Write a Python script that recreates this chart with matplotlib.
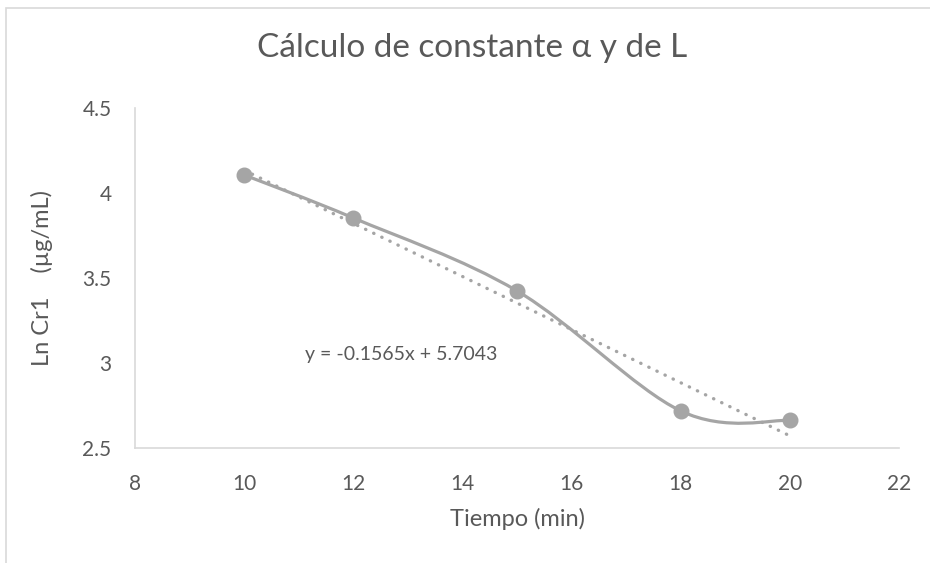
import numpy as np
import matplotlib.pyplot as plt
from matplotlib.patches import Rectangle
from matplotlib.path import Path
from matplotlib.patches import PathPatch

plt.rcParams['font.family'] = ['Lato', 'DejaVu Sans']

tiempo = [10, 12, 15, 18, 20]
ln_cr1 = [4.106, 3.853, 3.424, 2.718, 2.662]
ecuacion = "y = -0.1565x + 5.7043"

gris = '#A5A5A5'
texto = '#595959'
eje = '#D9D9D9'

fig = plt.figure(figsize=(9.3, 5.63), dpi=100)
ax = fig.add_axes([0.1452, 0.2043, 0.8215, 0.6039])

# marco del grafico (recortado en derecha y abajo)
fig.patches.append(Rectangle((6 / 930, -0.1), 1.2, 1 - 8 / 563 + 0.1, transform=fig.transFigure,
                             fill=False, edgecolor=eje, linewidth=1.2))

# linea suavizada estilo Excel (bezier)
x = np.array(tiempo, dtype=float)
y = np.array(ln_cr1, dtype=float)
verts = [(x[0], y[0])]
codes = [Path.MOVETO]
n = len(x)
for i in range(n - 1):
    p0 = np.array([x[max(i - 1, 0)], y[max(i - 1, 0)]])
    p1 = np.array([x[i], y[i]])
    p2 = np.array([x[i + 1], y[i + 1]])
    p3 = np.array([x[min(i + 2, n - 1)], y[min(i + 2, n - 1)]])
    c1 = p1 + (p2 - p0) / 6.0
    c2 = p2 - (p3 - p1) / 6.0
    verts += [tuple(c1), tuple(c2), tuple(p2)]
    codes += [Path.CURVE4] * 3
ax.add_patch(PathPatch(Path(verts, codes), facecolor='none', edgecolor=gris, linewidth=2.3,
                       capstyle='round', zorder=3))

ax.plot(tiempo, ln_cr1, 'o', color=gris, markersize=10.5, zorder=4)

# linea de tendencia
m, b = np.polyfit(x, y, 1)
xt = np.array([x[0], x[-1]])
ax.plot(xt, m * xt + b, linestyle=(0, (0.1, 2.6)), color=gris, linewidth=2.4,
        dash_capstyle='round', zorder=2)

ax.text(11.12, 3.05, ecuacion, fontsize=14, color=texto, va='center', ha='left')

ax.set_xlim(8, 22)
ax.set_ylim(2.5, 4.5)
ax.set_xticks(np.arange(8, 23, 2))
ax.set_yticks([2.5, 3, 3.5, 4, 4.5])
ax.set_yticklabels(['2.5', '3', '3.5', '4', '4.5'])
for s in ['top', 'right']:
    ax.spines[s].set_visible(False)
for s in ['left', 'bottom']:
    ax.spines[s].set_color(eje)
    ax.spines[s].set_linewidth(1.2)
ax.tick_params(length=0, labelsize=15, labelcolor=texto)
ax.tick_params(axis='y', pad=17)
ax.tick_params(axis='x', pad=19)

fig.text(472 / 930, 1 - 48 / 563, "Cálculo de constante α y de L", fontsize=24, color=texto,
         ha='center', va='center')
ax.set_xlabel("Tiempo (min)", fontsize=17, color=texto, labelpad=10)
ax.set_ylabel("Ln Cr1    (µg/mL)", fontsize=17, color=texto, labelpad=21)

fig.savefig('out.png', dpi=100)
